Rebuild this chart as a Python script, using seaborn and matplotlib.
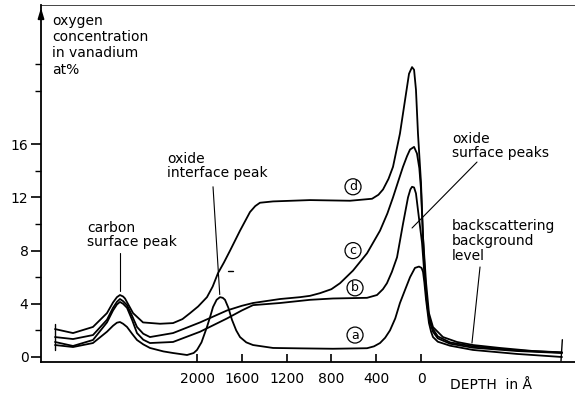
import numpy as np
import pandas as pd
import matplotlib
matplotlib.use("Agg")
import matplotlib.pyplot as plt
import seaborn as sns

# ---------------- data ----------------
depth_a = [3268, 3107, 2929, 2804, 2750, 2715, 2688, 2660, 2625, 2580, 2536, 2480, 2420, 2300, 2214,
           2089, 2030, 2000, 1960, 1911, 1880, 1857, 1825, 1795, 1770, 1750, 1720, 1688, 1650, 1616,
           1560, 1500, 1321, 1080, 786, 482, 420, 366, 320, 277, 230, 188, 140, 98, 54, 18, -5, -18,
           -30, -45, -60, -71, -90, -107, -150, -259, -464, -857, -1259]
conc_a = [0.9, 0.75, 1.05, 1.9, 2.35, 2.58, 2.63, 2.5, 2.26, 1.75, 1.28, 0.95, 0.68, 0.42, 0.3,
          0.15, 0.3, 0.53, 1.1, 2.26, 3.1, 3.76, 4.3, 4.5, 4.45, 4.3, 3.7, 2.8, 2.0, 1.5,
          1.1, 0.9, 0.68, 0.65, 0.62, 0.66, 0.8, 1.05, 1.45, 2.0, 2.9, 4.06, 5.1, 6.0, 6.7, 6.8, 6.7, 6.4,
          5.6, 4.3, 3.3, 2.56, 1.9, 1.5, 1.15, 0.85, 0.53, 0.23, 0.0]

depth_b = [3268, 3107, 2929, 2804, 2750, 2715, 2688, 2660, 2625, 2580, 2536, 2480, 2420, 2214, 1973,
           1732, 1600, 1500, 1259, 991, 786, 482, 393, 340, 304, 260, 214, 161, 116, 95, 80, 62, 45,
           27, -9, -36, -60, -80, -107, -150, -259, -464, -857, -1259]
conc_b = [1.13, 0.83, 1.28, 2.6, 3.5, 3.95, 4.14, 4.0, 3.7, 2.8, 1.8, 1.3, 1.05, 1.13, 1.9,
          2.9, 3.5, 3.9, 4.06, 4.3, 4.4, 4.45, 4.66, 5.1, 5.55, 6.4, 7.5, 10.0, 12.0, 12.6, 12.8, 12.75, 12.3,
          11.05, 8.6, 5.6, 3.6, 2.6, 1.9, 1.4, 1.0, 0.7, 0.45, 0.3]

depth_c = [3268, 3107, 2929, 2804, 2750, 2715, 2688, 2660, 2625, 2580, 2536, 2480, 2420, 2214, 1973,
           1732, 1600, 1500, 1259, 1080, 991, 902, 800, 723, 607, 482, 366, 300, 250, 200, 161, 125,
           98, 62, 36, 15, 0, -18, -35, -50, -71, -107, -150, -259, -464, -857, -1259]
conc_c = [1.5, 1.35, 1.65, 2.8, 3.7, 4.15, 4.36, 4.2, 3.9, 3.1, 2.26, 1.75, 1.5, 1.8, 2.6,
          3.5, 3.85, 4.06, 4.36, 4.5, 4.6, 4.8, 5.1, 5.55, 6.5, 7.8, 9.5, 10.8, 12.0, 13.3, 14.3, 15.1,
          15.6, 15.8, 15.3, 14.2, 12.6, 9.0, 6.2, 4.4, 3.0, 2.1, 1.55, 1.1, 0.8, 0.5, 0.33]

depth_d = [3268, 3107, 2929, 2804, 2750, 2715, 2688, 2660, 2643, 2571, 2482, 2330, 2214, 2130, 2062,
           1990, 1911, 1860, 1813, 1760, 1705, 1616, 1527, 1480, 1438, 1321, 991, 634, 437, 380, 339,
           290, 250, 188, 134, 107, 80, 62, 45, 27, 0, -18, -45, -71, -107, -196, -321, -464, -705,
           -1000, -1259]
conc_d = [2.1, 1.8, 2.26, 3.3, 4.1, 4.5, 4.66, 4.55, 4.4, 3.3, 2.6, 2.5, 2.55, 2.85, 3.3,
          3.8, 4.5, 5.3, 6.3, 7.1, 8.0, 9.5, 10.9, 11.35, 11.6, 11.7, 11.8, 11.75, 11.9, 12.2, 12.6,
          13.4, 14.3, 16.8, 19.8, 21.3, 21.8, 21.6, 20.1, 16.8, 13.1, 9.0, 5.6, 3.3, 2.25, 1.5, 1.13, 0.9, 0.68,
          0.45, 0.35]

curve_names = ["a", "b", "c", "d"]
label_depth = [589, 589, 607, 607]
label_conc = [1.65, 5.2, 8.0, 12.8]

x_ticks = [2000, 1600, 1200, 800, 400, 0]
x_ticklabels = ["2000", "1600", "1200", "800", "400", "0"]
y_ticks = [0, 4, 8, 12, 16]
y_ticklabels = ["0", "4", "8", "12", "16"]
y_minor = [2, 6, 10, 14, 20, 22]

# ---------------- build table ----------------
frames = []
for name, dep, con in zip(curve_names, [depth_a, depth_b, depth_c, depth_d],
                          [conc_a, conc_b, conc_c, conc_d]):
    frames.append(pd.DataFrame({"depth": dep, "conc": con, "curve": name}))
df = pd.concat(frames, ignore_index=True)

# ---------------- figure ----------------
sns.set_style("ticks")
plt.rcParams["font.family"] = ["DejaVu Sans"]
plt.rcParams["text.color"] = "black"
plt.rcParams["xtick.color"] = "black"
plt.rcParams["ytick.color"] = "black"
plt.rcParams["axes.labelcolor"] = "black"

W, H = 575, 400
fig = plt.figure(figsize=(W / 100, H / 100), dpi=100)
ax = fig.add_axes([41 / W, 38 / H, (W - 41) / W, (362 - 5) / H])

sns.lineplot(data=df, x="depth", y="conc", units="curve", estimator=None, sort=False,
             color="black", lw=1.3, ax=ax, legend=False)

ax.set_xlim(3393, -1375)
ax.set_ylim(-0.376, 26.47)

# curve end bars
ax.plot([3268, 3268], [0.5, 2.45], color="black", lw=1.0)
ax.plot([-1262, -1250], [1.3, -0.3], color="black", lw=1.0)

# circled labels
for name, xd, yv in zip(curve_names, label_depth, label_conc):
    ax.text(xd, yv, name, ha="center", va="center", fontsize=9, color="black",
            bbox=dict(boxstyle="circle,pad=0.12", fc="none", ec="black", lw=0.9))

# leader lines
lk = dict(color="black", lw=0.8)
ax.plot([2688, 2688], [4.95, 7.8], **lk)
ax.plot([1857, 1797], [12.8, 4.7], **lk)
ax.plot([-500, 80], [14.66, 9.7], **lk)
ax.plot([-527, -455], [6.77, 1.05], **lk)
ax.plot([1723, 1679], [6.47, 6.47], color="black", lw=1.0)

# annotations
fs = 10
tk = dict(ha="left", va="top", fontsize=fs, color="black")
ax.text(3295, 25.8, "oxygen\nconcentration\nin vanadium\nat%", linespacing=1.2, **tk)
ax.text(2982, 10.25, "carbon\nsurface peak", linespacing=1.05, **tk)
ax.text(2268, 15.45, "oxide\ninterface peak", linespacing=1.05, **tk)
ax.text(-277, 16.95, "oxide\nsurface peaks", linespacing=1.05, **tk)
ax.text(-277, 10.4, "backscattering\nbackground\nlevel", linespacing=1.1, **tk)
ax.text(-259, -2.1, "DEPTH  in Å", ha="left", va="center", fontsize=fs, color="black",
        clip_on=False)

# axes styling
for s in ["top", "right"]:
    ax.spines[s].set_visible(False)
for s in ["left", "bottom"]:
    ax.spines[s].set_linewidth(1.3)
    ax.spines[s].set_color("black")

ax.set_xticks(x_ticks)
ax.set_xticklabels(x_ticklabels)
ax.set_yticks(y_ticks)
ax.set_yticklabels(y_ticklabels)
ax.set_yticks(y_minor, minor=True)
ax.tick_params(axis="x", direction="in", length=6, width=1.2, pad=7, labelsize=fs,
               colors="black")
ax.tick_params(axis="y", which="major", direction="out", length=7, width=1.2, pad=2,
               labelsize=fs, colors="black")
ax.tick_params(axis="y", which="minor", direction="out", length=4, width=1.0, colors="black")
ax.set_xlabel("")
ax.set_ylabel("")

# y-axis arrow head
ax.annotate("", xy=(0, 1.0), xytext=(0, 0.96), xycoords="axes fraction",
            arrowprops=dict(arrowstyle="-|>,head_width=0.18,head_length=0.6", color="black",
                            lw=1.3))
# faint top border line
ax.plot([0, 1], [1, 1], transform=ax.transAxes, color="#444444", lw=0.7, clip_on=False)

fig.savefig("out.png", dpi=100)
